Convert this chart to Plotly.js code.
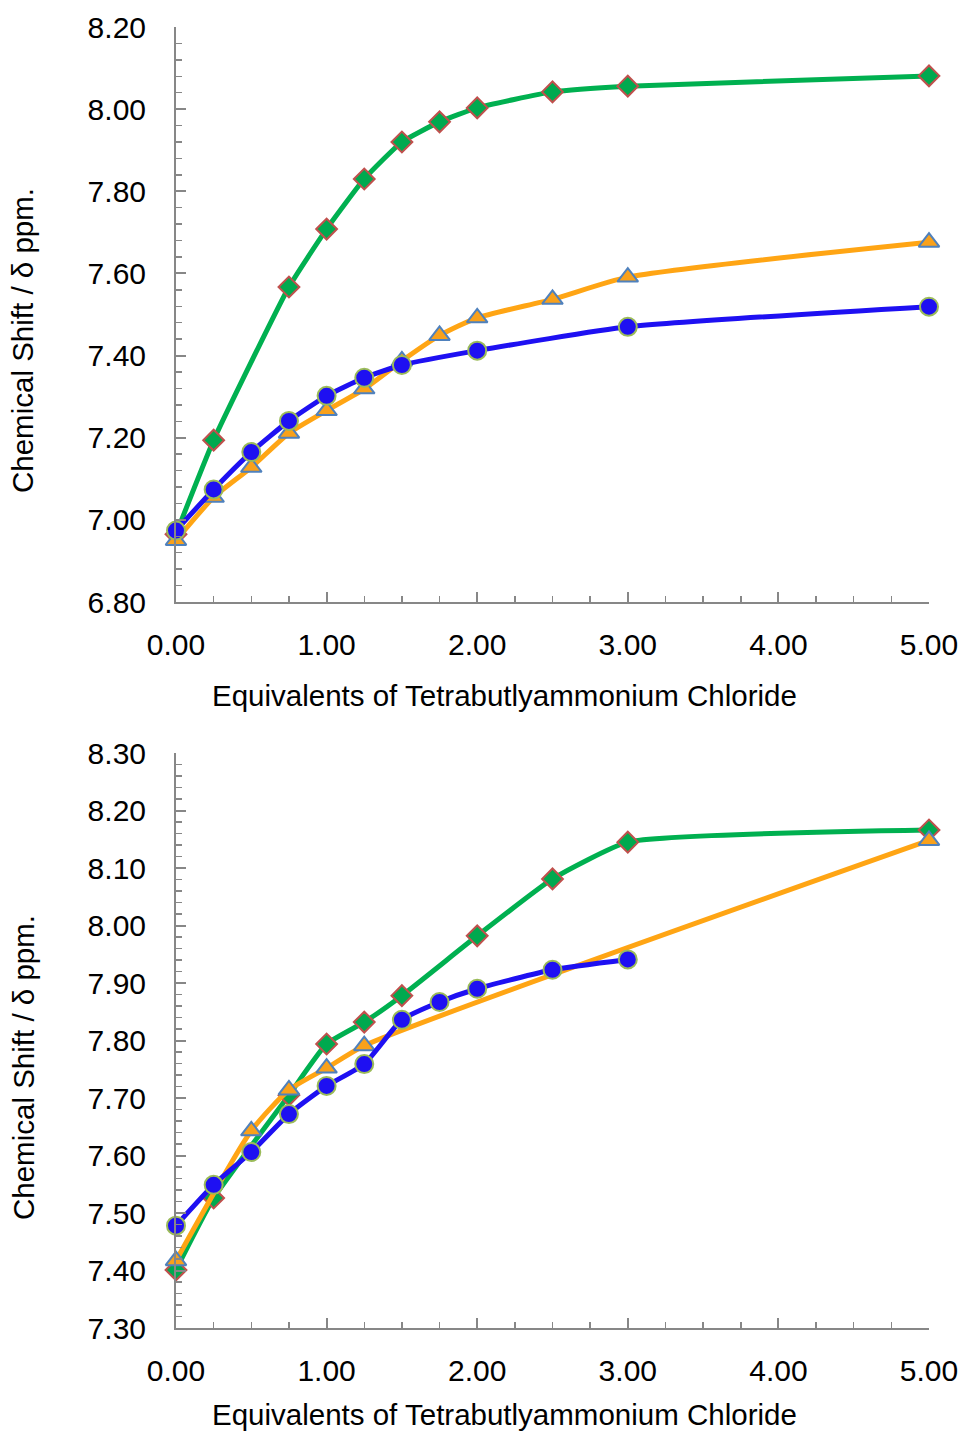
<!DOCTYPE html>
<html>
<head>
<meta charset="utf-8">
<script src="https://cdn.plot.ly/plotly-3.0.1.min.js"></script>
<style>
html,body{margin:0;padding:0;background:#fff;}
#chart{width:961px;height:1436px;}
</style>
</head>
<body>
<div id="chart"></div>
<script>
// ---- Data ----
const xTitle = "Equivalents of Tetrabutlyammonium Chloride";
const yTitle = "Chemical Shift / δ ppm.";

// Top panel
const topGreenX  = [0, 0.25, 0.75, 1.00, 1.25, 1.50, 1.75, 2.00, 2.50, 3.00, 5.00];
const topGreenY  = [6.965, 7.194, 7.567, 7.708, 7.830, 7.920, 7.969, 8.003, 8.042, 8.056, 8.081];
const topOrangeX = [0, 0.25, 0.50, 0.75, 1.00, 1.25, 1.50, 1.75, 2.00, 2.50, 3.00, 5.00];
const topOrangeY = [6.950, 7.055, 7.128, 7.211, 7.266, 7.319, 7.387, 7.449, 7.492, 7.537, 7.591, 7.676];
const topBlueX   = [0, 0.25, 0.50, 0.75, 1.00, 1.25, 1.50, 2.00, 3.00, 5.00];
const topBlueY   = [6.974, 7.074, 7.165, 7.241, 7.302, 7.346, 7.377, 7.412, 7.470, 7.519];

// Bottom panel
const botGreenX  = [0, 0.25, 0.75, 1.00, 1.25, 1.50, 2.00, 2.50, 3.00, 5.00];
const botGreenY  = [7.401, 7.526, 7.705, 7.794, 7.832, 7.878, 7.982, 8.081, 8.145, 8.166];
const botOrangeX = [0, 0.50, 0.75, 1.00, 1.25, 5.00];
const botOrangeY = [7.417, 7.643, 7.714, 7.752, 7.791, 8.148];
const botBlueX   = [0, 0.25, 0.50, 0.75, 1.00, 1.25, 1.50, 1.75, 2.00, 2.50, 3.00];
const botBlueY   = [7.478, 7.549, 7.606, 7.672, 7.721, 7.759, 7.836, 7.867, 7.890, 7.923, 7.941];

// ---- Styles ----
const W = 961, H = 1436;
const FONT = "Liberation Sans, Arial, sans-serif";
const AX = "#878787";
const green = {line:{color:"#00B050", width:5, shape:"spline", smoothing:0.45},
  marker:{symbol:"diamond", size:16, color:"#00A94F", line:{color:"#C0504D", width:2}}};
const orange = {line:{color:"#FFA514", width:5, shape:"spline", smoothing:0.6},
  marker:{symbol:"triangle-up", size:18, color:"#F9A11B", line:{color:"#4F81BD", width:2}}};
const blue = {line:{color:"#1E10F2", width:5, shape:"spline", smoothing:0.5},
  marker:{symbol:"circle", size:18, color:"#1E10F2", line:{color:"#9BBB59", width:2}}};

function tr(x, y, st, xa, ya){
  return Object.assign({x:x, y:y, xaxis:xa, yaxis:ya, type:"scatter", mode:"lines+markers",
    cliponaxis:false, hoverinfo:"skip"}, JSON.parse(JSON.stringify(st)));
}

const data = [
  tr(topGreenX, topGreenY, green, "x", "y"),
  tr(topOrangeX, topOrangeY, orange, "x", "y"),
  tr(topBlueX, topBlueY, blue, "x", "y"),
  tr(botGreenX, botGreenY, green, "x2", "y2"),
  tr(botOrangeX, botOrangeY, orange, "x2", "y2"),
  tr(botBlueX, botBlueY, blue, "x2", "y2")
];

const xd = [176/W, 929/W];
function xaxisDef(anchor){
  return {domain:xd, anchor:anchor, range:[0,5], tick0:0, dtick:1, tickformat:".2f",
    showline:true, linecolor:AX, linewidth:2, showgrid:false, zeroline:false,
    ticks:"inside", ticklen:10, tickwidth:2, tickcolor:AX, ticklabelstandoff:15,
    minor:{ticks:"inside", dtick:0.25, tick0:0, ticklen:6, tickwidth:1.5, tickcolor:AX, showgrid:false},
    tickfont:{family:FONT, size:30, color:"#000"}, fixedrange:true};
}
function yaxisDef(anchor, dom, rng, dt, mdt){
  return {domain:dom, anchor:anchor, range:rng, tick0:rng[0], dtick:dt, tickformat:".2f",
    showline:true, linecolor:AX, linewidth:2, showgrid:false, zeroline:false,
    ticks:"inside", ticklen:10, tickwidth:2, tickcolor:AX, ticklabelstandoff:22,
    minor:{ticks:"inside", dtick:mdt, tick0:rng[0], ticklen:6, tickwidth:1.5, tickcolor:AX, showgrid:false},
    tickfont:{family:FONT, size:30, color:"#000"}, fixedrange:true};
}

function ann(text, xpx, ypx, angle){
  return {text:text, xref:"paper", yref:"paper", x:xpx/W, y:1-ypx/H, xanchor:"center", yanchor:"middle",
    showarrow:false, textangle:angle||0, font:{family:FONT, size:29.5, color:"#000"}};
}

const layout = {
  width:W, height:H, margin:{l:0,r:0,t:0,b:0},
  paper_bgcolor:"#fff", plot_bgcolor:"#fff", showlegend:false,
  xaxis: xaxisDef("y"),
  yaxis: yaxisDef("x", [1-602/H, 1-27/H], [6.8, 8.2], 0.2, 0.04),
  xaxis2: xaxisDef("y2"),
  yaxis2: yaxisDef("x2", [1-1328/H, 1-753/H], [7.3, 8.3], 0.1, 0.02),
  annotations:[
    ann(xTitle, 505, 695),
    ann(xTitle, 505, 1414),
    ann(yTitle, 23, 341, -90),
    ann(yTitle, 23, 1068, -90)
  ]
};

Plotly.newPlot("chart", data, layout, {displayModeBar:false, staticPlot:true});
</script>
</body>
</html>
